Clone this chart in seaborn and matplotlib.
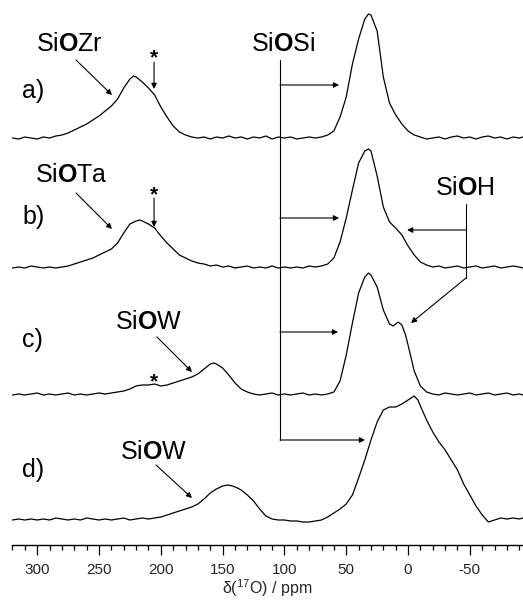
import numpy as np
import pandas as pd
import matplotlib
matplotlib.use("Agg")
import matplotlib.pyplot as plt
import seaborn as sns

# 17O MAS NMR spectra, intensities relative to each baseline
ppm_a = [320, 315, 310, 305, 300, 295, 290, 285, 280, 275,
         270, 265, 260, 255, 250, 245, 240, 235, 230, 225,
         222, 220, 215, 210, 205, 200, 195, 190, 185, 180,
         175, 170, 165, 160, 155, 150, 145, 140, 135, 130,
         125, 120, 115, 110, 105, 100, 95, 90, 85, 80,
         75, 70, 65, 60, 55, 50, 45, 40, 35, 32,
         30, 25, 20, 15, 10, 5, 0, -5, -10, -15,
         -20, -25, -30, -35, -40, -45, -50, -55, -60, -65,
         -70, -75, -80, -85, -90, -93]
int_a = [1, 0, 2, 1, 0, 2, 1, 3, 4, 6,
         9, 12, 15, 19, 23, 28, 33, 40, 51, 60,
         63, 62, 57, 51, 44, 32, 22, 13, 7, 4,
         2, 1, 2, 0, 2, 1, 3, 1, 2, 0,
         2, 1, 3, 0, 2, 1, 2, 0, 1, 2,
         1, 2, 4, 8, 22, 42, 75, 100, 120, 125,
         124, 108, 62, 36, 24, 15, 8, 4, 2, 0,
         1, 2, 0, 2, 3, 1, 2, 0, 2, 3,
         1, 2, 0, 2, 1, 2]

ppm_b = [320, 315, 310, 305, 300, 295, 290, 285, 280, 275,
         270, 265, 260, 255, 250, 245, 240, 235, 230, 225,
         220, 217, 215, 210, 205, 200, 195, 190, 185, 180,
         175, 170, 165, 160, 155, 150, 145, 140, 135, 130,
         125, 120, 115, 110, 105, 100, 95, 90, 85, 80,
         75, 70, 65, 60, 55, 50, 45, 40, 35, 32,
         30, 25, 20, 15, 10, 5, 0, -5, -10, -15,
         -20, -25, -30, -35, -40, -45, -50, -55, -60, -65,
         -70, -75, -80, -85, -90, -93]
int_b = [0, 1, 0, 2, 1, 0, 1, 0, 1, 2,
         4, 6, 8, 10, 13, 16, 19, 25, 35, 44,
         47, 48, 47, 44, 40, 32, 25, 19, 13, 10,
         7, 5, 4, 2, 3, 1, 2, 0, 1, 2,
         0, 1, 0, 2, 0, 1, 0, 1, 0, 2,
         1, 2, 4, 10, 26, 50, 78, 105, 117, 119,
         117, 92, 61, 46, 40, 33, 22, 13, 6, 3,
         1, 2, 0, 1, 2, 0, 1, 2, 0, 1,
         2, 0, 1, 2, 1, 0]

ppm_c = [320, 315, 310, 305, 300, 295, 290, 285, 280, 275,
         270, 265, 260, 255, 250, 245, 240, 235, 230, 225,
         220, 215, 210, 205, 200, 195, 190, 185, 180, 175,
         170, 165, 160, 157, 155, 150, 145, 140, 135, 130,
         125, 120, 115, 110, 105, 100, 95, 90, 85, 80,
         75, 70, 65, 60, 55, 50, 45, 40, 35, 32,
         30, 25, 20, 15, 12, 8, 5, 2, 0, -5,
         -10, -15, -20, -25, -30, -35, -40, -45, -50, -55,
         -60, -65, -70, -75, -80, -85, -90, -93]
int_c = [0, 1, 0, 1, 2, 0, 1, 0, 1, 2,
         0, 1, 0, 1, 2, 1, 2, 3, 4, 6,
         9, 10, 10, 11, 9, 10, 12, 14, 16, 18,
         21, 26, 31, 32, 31, 27, 20, 12, 6, 3,
         1, 0, 1, 2, 0, 1, 0, 1, 2, 0,
         1, 0, 1, 3, 14, 40, 72, 102, 118, 122,
         120, 108, 85, 71, 69, 73, 70, 60, 50, 24,
         9, 3, 1, 0, 2, 1, 0, 1, 2, 0,
         1, 2, 0, 1, 2, 0, 1, 0]

ppm_d = [320, 315, 310, 305, 300, 295, 290, 285, 280, 275,
         270, 265, 260, 255, 250, 245, 240, 235, 230, 225,
         220, 215, 210, 205, 200, 195, 190, 185, 180, 175,
         170, 165, 160, 155, 150, 146, 142, 138, 135, 130,
         125, 120, 115, 110, 105, 100, 95, 90, 85, 80,
         75, 70, 65, 60, 55, 50, 45, 40, 35, 30,
         25, 20, 15, 10, 5, 0, -5, -8, -10, -15,
         -20, -25, -30, -35, -40, -45, -50, -55, -60, -65,
         -70, -75, -80, -85, -90, -93]
int_d = [0, 1, 0, 1, 0, 1, 0, 2, 1, 0,
         1, 0, 2, 1, 0, 1, 0, 1, 2, 0,
         1, 2, 1, 2, 3, 5, 7, 9, 11, 13,
         16, 21, 27, 31, 34, 35, 34, 32, 30, 25,
         19, 11, 4, 1, 0, 0, -1, -1, -2, -2,
         -1, 0, 3, 7, 11, 16, 25, 42, 60, 80,
         98, 110, 113, 113, 116, 120, 124, 120, 114, 100,
         88, 78, 70, 60, 50, 36, 25, 14, 5, -2,
         0, 2, 1, 2, 1, 2]

samples = ["a)", "b)", "c)", "d)"]
spectra = [(ppm_a, int_a), (ppm_b, int_b), (ppm_c, int_c), (ppm_d, int_d)]
offsets = [406, 277, 150, 25]   # vertical stacking of the traces

frames = []
for name, (p, v), off in zip(samples, spectra, offsets):
    assert len(p) == len(v)
    frames.append(pd.DataFrame({"ppm": p, "signal": np.array(v) + off, "sample": name}))
df = pd.concat(frames, ignore_index=True)

sns.set_theme(style="white")
plt.rcParams["font.family"] = ["Liberation Sans", "DejaVu Sans"]
plt.rcParams["mathtext.fontset"] = "custom"
plt.rcParams["mathtext.rm"] = "Liberation Sans"
plt.rcParams["mathtext.bf"] = "Liberation Sans:bold"
plt.rcParams["axes.unicode_minus"] = False

fig = plt.figure(figsize=(5.23, 6.10), dpi=100)
ax = fig.add_axes([12 / 523, 65 / 610, 511 / 523, 545 / 610])

sns.lineplot(data=df, x="ppm", y="signal", hue="sample", units="sample",
             estimator=None, palette=["black"] * 4, legend=False,
             linewidth=0.9, ax=ax, sort=True)

ax.set_xlim(320.4, -93)
ax.set_ylim(0, 545)
for s in ["left", "right", "top"]:
    ax.spines[s].set_visible(False)
ax.spines["bottom"].set_color("black")
ax.spines["bottom"].set_linewidth(1.0)
ax.set_yticks([])
ax.set_ylabel("")
ax.set_xticks([300, 250, 200, 150, 100, 50, 0, -50])
ax.set_xticks(np.arange(-90, 321, 10), minor=True)
ax.tick_params(axis="x", which="major", direction="out", length=7, width=0.9,
               color="black", labelsize=11, pad=6, bottom=True)
ax.tick_params(axis="x", which="minor", direction="out", length=3.5, width=0.9,
               color="black", bottom=True)
ax.set_xlabel(r"δ($^{\mathrm{17}}$O) / ppm", fontsize=11.5, labelpad=0)
ax.set_facecolor("white")
ax.grid(False)

lab = dict(fontsize=18, color="black")
arrow = dict(arrowstyle="-|>", lw=0.8, color="black", mutation_scale=8,
             shrinkA=0, shrinkB=0)

# sample letters
for name, y in zip(samples, [454, 328, 205, 75]):
    ax.text(312.3, y, name, ha="left", va="center", **lab)

# species labels with pointer arrows
ax.text(274, 501, r"Si$\mathbf{O}$Zr", ha="center", va="center", **lab)
ax.annotate("", xy=(239.5, 450), xytext=(268.6, 485), arrowprops=arrow)
ax.text(272, 370, r"Si$\mathbf{O}$Ta", ha="center", va="center", **lab)
ax.annotate("", xy=(239.5, 316), xytext=(268.6, 352), arrowprops=arrow)
ax.text(209.5, 223, r"Si$\mathbf{O}$W", ha="center", va="center", **lab)
ax.annotate("", xy=(174.8, 173), xytext=(203.1, 208), arrowprops=arrow)
ax.text(205.5, 93, r"Si$\mathbf{O}$W", ha="center", va="center", **lab)
ax.annotate("", xy=(174.8, 47), xytext=(203.9, 80), arrowprops=arrow)

# spinning sidebands
star = dict(fontsize=15, fontweight="bold", color="black", ha="center", va="center")
ax.text(205.5, 487, "*", **star)
ax.annotate("", xy=(205.5, 456), xytext=(205.5, 483), arrowprops=arrow)
ax.text(205.5, 350, "*", **star)
ax.annotate("", xy=(205.5, 318), xytext=(205.5, 347), arrowprops=arrow)
ax.text(205.5, 163, "*", **star)

# SiOSi bracket
ax.text(101, 501, r"Si$\mathbf{O}$Si", ha="center", va="center", **lab)
ax.plot([103.6, 103.6], [485, 105], color="black", lw=0.8)
for y, xend in zip([460, 327, 213, 105], [55.8, 55.8, 56.6, 34.8]):
    ax.annotate("", xy=(xend, y), xytext=(103.6, y), arrowprops=arrow)

# SiOH bracket
ax.text(-46, 357, r"Si$\mathbf{O}$H", ha="center", va="center", **lab)
ax.plot([-46.9, -46.9], [341, 267], color="black", lw=0.8)
ax.annotate("", xy=(-2.4, 222), xytext=(-46.9, 267), arrowprops=arrow)
ax.annotate("", xy=(0.8, 315), xytext=(-46.9, 315), arrowprops=arrow)

fig.savefig("out.png", dpi=100, facecolor="white")
